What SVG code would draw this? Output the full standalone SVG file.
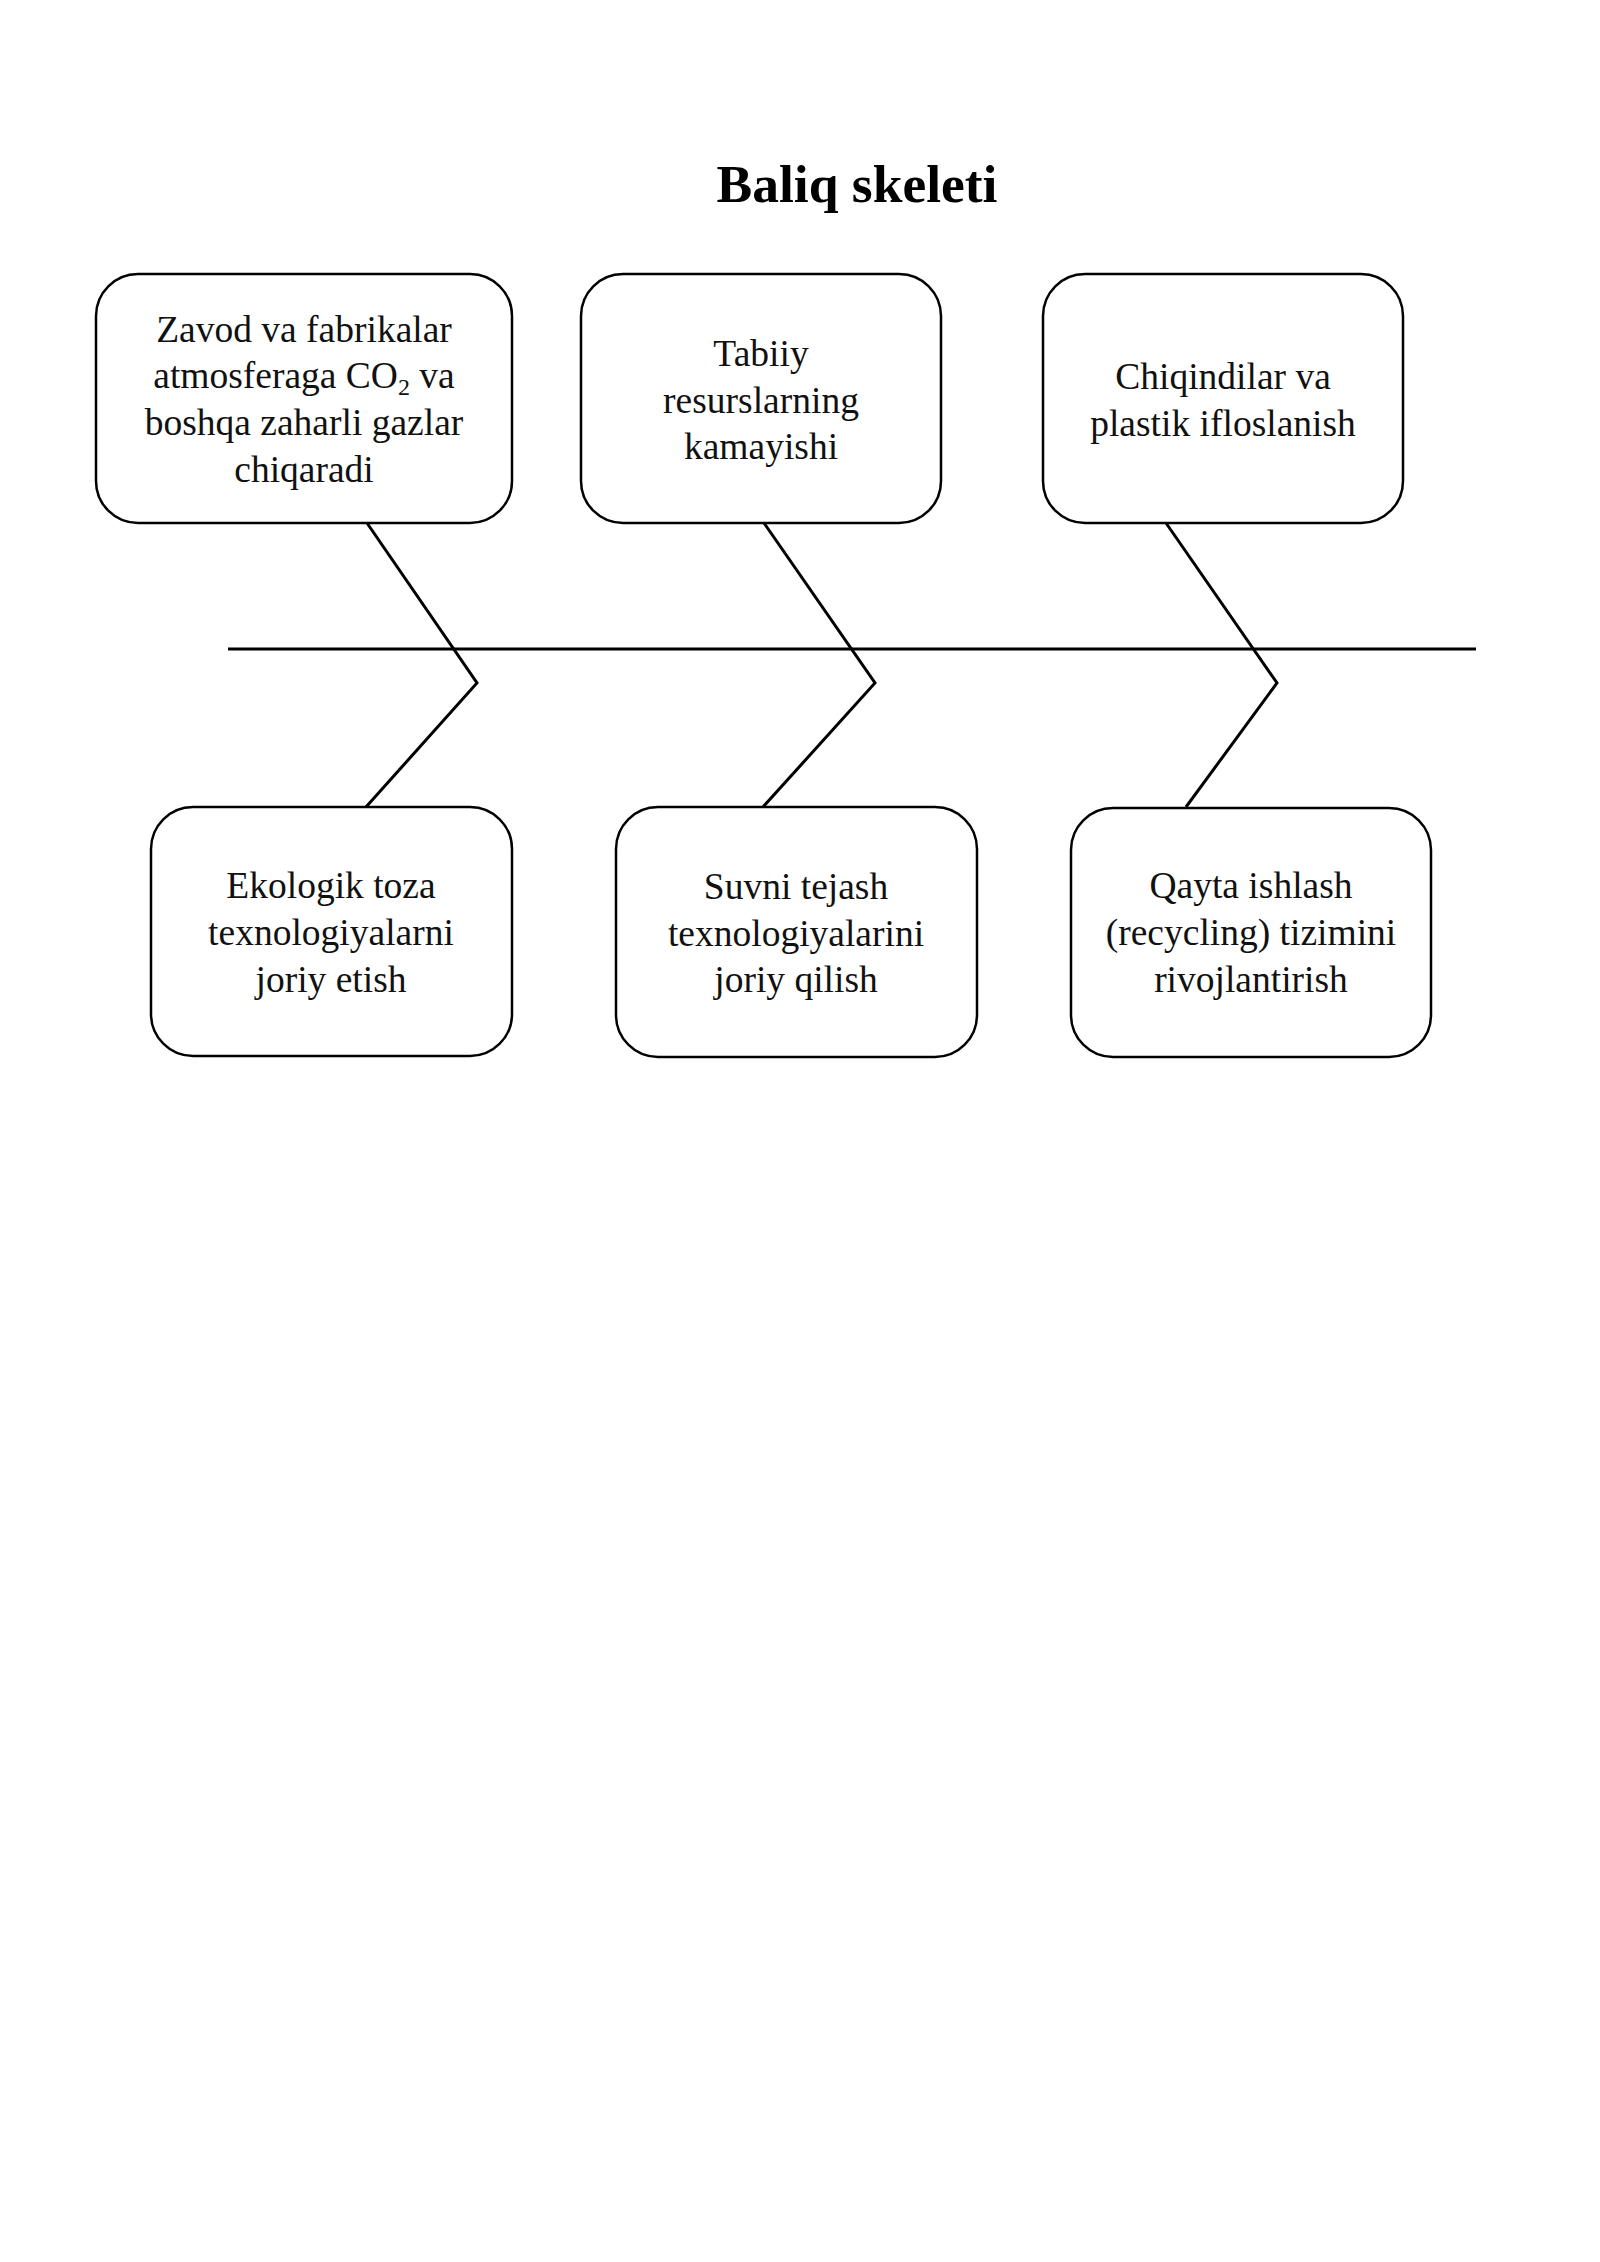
<svg xmlns="http://www.w3.org/2000/svg" width="1600" height="2262" viewBox="0 0 1600 2262">
<style>
.box{fill:#fff;stroke:#000;stroke-width:2.5}
.t{font-family:"Liberation Serif","Times New Roman",serif;font-size:37.5px;text-anchor:middle;fill:#111}
.title{font-family:"Liberation Serif","Times New Roman",serif;font-size:53.5px;font-weight:bold;text-anchor:middle;fill:#000}
.bone{fill:none;stroke:#000;stroke-width:3;stroke-linejoin:miter}
</style>
<rect width="1600" height="2262" fill="#fff"/>
<text class="title" x="857" y="202">Baliq skeleti</text>
<g id="connectors">
<line class="bone" x1="228" y1="649" x2="1476" y2="649"/>
<polyline class="bone" points="367,523 477,683 366,807"/>
<polyline class="bone" points="764,523 875,683 763,807"/>
<polyline class="bone" points="1166,523 1277,683 1186,807"/>
</g>
<g id="node1">
<rect class="box" x="96" y="274" width="416" height="249" rx="42"/>
<text class="t" x="304" y="342">Zavod va fabrikalar</text>
<text class="t" x="304" y="388">atmosferaga CO<tspan font-size="24" dy="7">2</tspan><tspan dy="-7"> va</tspan></text>
<text class="t" x="304" y="435">boshqa zaharli gazlar</text>
<text class="t" x="304" y="482">chiqaradi</text>
</g>
<g id="node2">
<rect class="box" x="581" y="274" width="360" height="249" rx="42"/>
<text class="t" x="761" y="366">Tabiiy</text>
<text class="t" x="761" y="413">resurslarning</text>
<text class="t" x="761" y="459">kamayishi</text>
</g>
<g id="node3">
<rect class="box" x="1043" y="274" width="360" height="249" rx="42"/>
<text class="t" x="1223" y="389">Chiqindilar va</text>
<text class="t" x="1223" y="436">plastik ifloslanish</text>
</g>
<g id="node4">
<rect class="box" x="151" y="807" width="361" height="249" rx="42"/>
<text class="t" x="331" y="898">Ekologik toza</text>
<text class="t" x="331" y="945">texnologiyalarni</text>
<text class="t" x="331" y="992">joriy etish</text>
</g>
<g id="node5">
<rect class="box" x="616" y="807" width="361" height="250" rx="42"/>
<text class="t" x="796" y="899">Suvni tejash</text>
<text class="t" x="796" y="946">texnologiyalarini</text>
<text class="t" x="796" y="992">joriy qilish</text>
</g>
<g id="node6">
<rect class="box" x="1071" y="808" width="360" height="249" rx="42"/>
<text class="t" x="1251" y="898">Qayta ishlash</text>
<text class="t" x="1251" y="945">(recycling) tizimini</text>
<text class="t" x="1251" y="992">rivojlantirish</text>
</g>
</svg>
